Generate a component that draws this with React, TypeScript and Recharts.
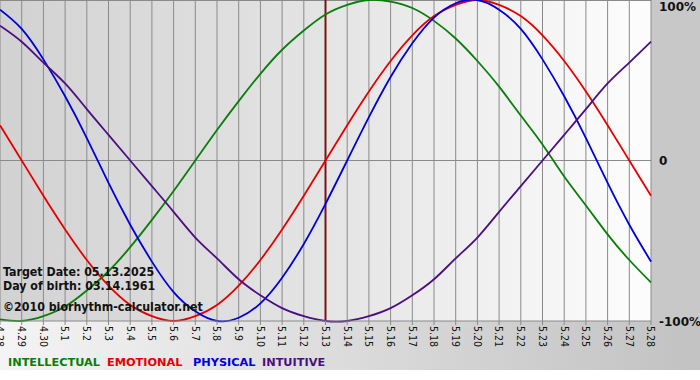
import React from 'react';
import { LineChart, Line, XAxis, YAxis, CartesianGrid, ReferenceLine } from 'recharts';

const dates = ['4.28', '4.29', '4.30', '5.1', '5.2', '5.3', '5.4', '5.5', '5.6', '5.7', '5.8', '5.9', '5.10', '5.11', '5.12', '5.13', '5.14', '5.15', '5.16', '5.17', '5.18', '5.19', '5.20', '5.21', '5.22', '5.23', '5.24', '5.25', '5.26', '5.27', '5.28'];
const intellectual = [-99, -100, -97, -91, -81, -69, -54, -37, -19, 0, 19, 37, 54, 69, 81, 91, 97, 100, 99, 95, 87, 76, 62, 46, 28, 10, -10, -28, -46, -62, -76];
const emotional = [22, 0, -22, -43, -62, -78, -90, -97, -100, -97, -90, -78, -62, -43, -22, 0, 22, 43, 62, 78, 90, 97, 100, 97, 90, 78, 62, 43, 22, 0, -22];
const physical = [94, 82, 63, 40, 14, -14, -40, -63, -82, -94, -100, -98, -89, -73, -52, -27, 0, 27, 52, 73, 89, 98, 100, 94, 82, 63, 40, 14, -14, -40, -63];
const intuitive = [84, 74, 61, 48, 32, 16, 0, -16, -32, -48, -61, -74, -84, -92, -97, -100, -100, -97, -92, -84, -74, -61, -48, -32, -16, 0, 16, 32, 48, 61, 74];
const yTicks = [-100, 0, 100];
const targetDate = '5.13';
const infoLines = ['Target Date: 05.13.2025', 'Day of birth: 03.14.1961', '\u00A92010 biorhythm-calculator.net'];
const legendItems = [
  { name: 'INTELLECTUAL', color: '#0a7d0a' },
  { name: 'EMOTIONAL', color: '#e60000' },
  { name: 'PHYSICAL', color: '#0000dc' },
  { name: 'INTUITIVE', color: '#4b0f82' },
];

const data = dates.map((d, i) => ({
  date: d,
  intellectual: intellectual[i],
  emotional: emotional[i],
  physical: physical[i],
  intuitive: intuitive[i],
}));

const YTick = (props: any) => {
  const { x, y, payload } = props;
  const v = payload.value;
  const label = v === 0 ? '0' : `${v}%`;
  const dy = v === 100 ? 1.5 : 4.5;
  return (
    <text x={x} y={y + dy} fill="#111" fontFamily="'DejaVu Sans', Verdana, sans-serif" fontWeight="bold" fontSize={12} textAnchor="start">
      {label}
    </text>
  );
};

const XTick = (props: any) => {
  const { x, y, payload } = props;
  return (
    <text
      x={x}
      y={y}
      transform={`rotate(90 ${x} ${y})`}
      dy="0.35em"
      fill="#111"
      fontFamily="'Liberation Sans Narrow', 'DejaVu Sans Condensed', sans-serif"
      fontSize={10.5}
      textAnchor="start"
    >
      {payload.value}
    </text>
  );
};

const legendX = [8, 107, 193, 262];
const infoY = [276, 290, 311];

export default function App() {
  return (
    <div style={{ position: 'absolute', left: 0, top: 0, width: 700, height: 380, background: '#ffffff', overflow: 'hidden' }}>
      <div style={{ position: 'absolute', left: 0, top: 0, width: 700, height: 370, background: 'linear-gradient(to right, #f4f4f4, #c2c2c2)' }} />
      <div style={{ position: 'absolute', left: 651, top: 0, width: 49, height: 321, background: '#c8c8c8' }} />
      <div style={{ position: 'absolute', left: 0, top: 0, width: 651, height: 321, background: 'linear-gradient(to right, #d2d2d2, #e4e4e4 50%, #fdfdfd)' }} />
      <div style={{ position: 'absolute', left: 0, top: 0 }}>
        <LineChart width={700} height={350} data={data} margin={{ top: 0, right: 0, left: 0, bottom: 0 }}>
          <CartesianGrid horizontal={false} vertical stroke="#8a8a8a" />
          <XAxis
            dataKey="date"
            interval={0}
            height={29}
            axisLine={{ stroke: '#8a8a8a' }}
            tickLine={{ stroke: '#8a8a8a' }}
            tickSize={4}
            tickMargin={1}
            tick={<XTick />}
          />
          <YAxis
            orientation="right"
            domain={[-100, 100]}
            ticks={yTicks}
            width={49}
            axisLine={false}
            tickLine={false}
            tickSize={0}
            tickMargin={8}
            tick={<YTick />}
          />
          <ReferenceLine y={0} stroke="#8a8a8a" />
          <ReferenceLine y={100} stroke="#8a8a8a" strokeWidth={2} />
          <ReferenceLine x={targetDate} stroke="#7a1414" strokeWidth={2} />
          <Line type="natural" dataKey="intellectual" stroke={legendItems[0].color} strokeWidth={1.8} dot={false} activeDot={false} isAnimationActive={false} />
          <Line type="natural" dataKey="emotional" stroke={legendItems[1].color} strokeWidth={1.8} dot={false} activeDot={false} isAnimationActive={false} />
          <Line type="natural" dataKey="physical" stroke={legendItems[2].color} strokeWidth={1.8} dot={false} activeDot={false} isAnimationActive={false} />
          <Line type="natural" dataKey="intuitive" stroke={legendItems[3].color} strokeWidth={1.8} dot={false} activeDot={false} isAnimationActive={false} />
        </LineChart>
      </div>
      <svg width={700} height={380} style={{ position: 'absolute', left: 0, top: 0, pointerEvents: 'none' }}>
        {infoLines.map((t, i) => (
          <text key={t} x={3} y={infoY[i]} fill="#111" fontFamily="'DejaVu Sans Condensed', 'DejaVu Sans', sans-serif" fontWeight="bold" fontSize={12.3}>
            {t}
          </text>
        ))}
        {legendItems.map((it, i) => (
          <text key={it.name} x={legendX[i]} y={366} fill={it.color} fontFamily="'DejaVu Sans', sans-serif" fontWeight="bold" fontSize={11.3}>
            {it.name}
          </text>
        ))}
      </svg>
    </div>
  );
}
